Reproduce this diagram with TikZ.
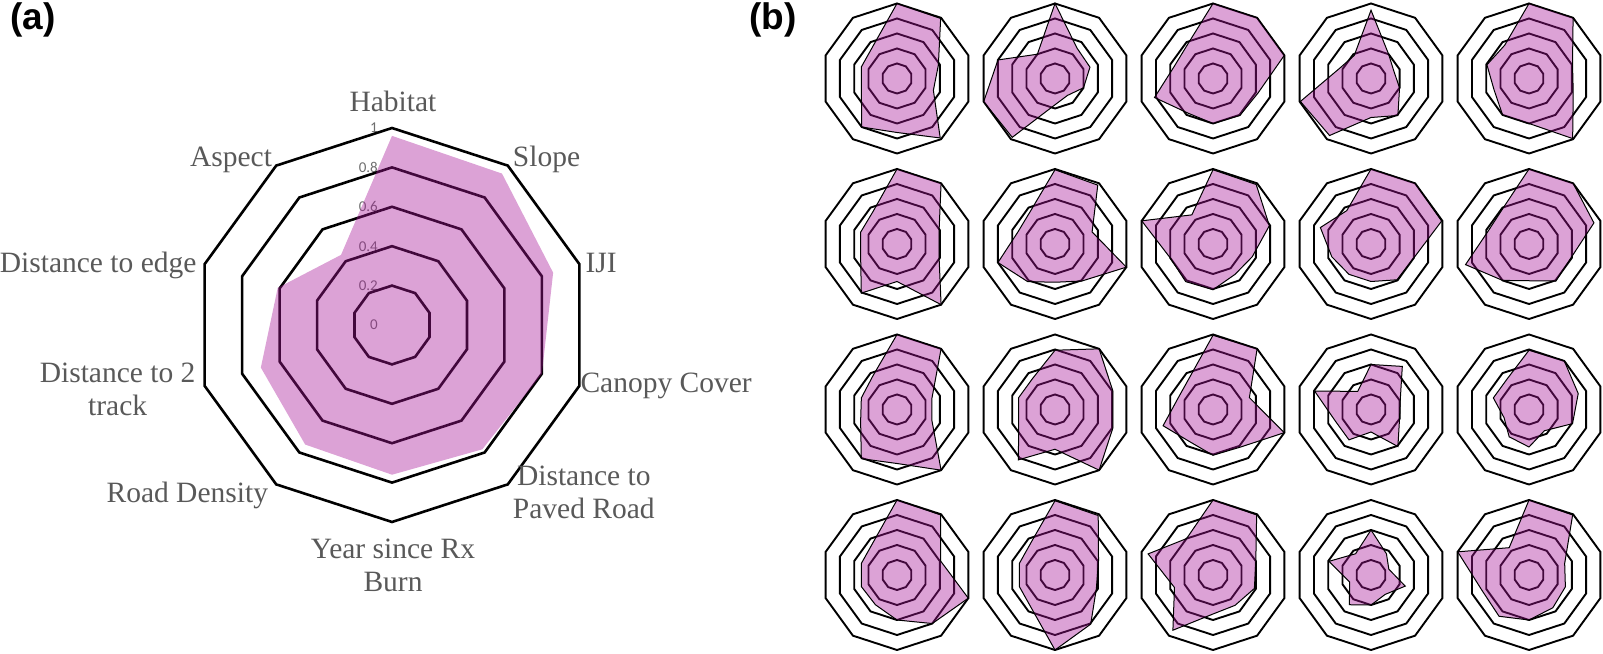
\documentclass[tikz,border=0pt]{standalone}
\usepackage{fontspec}
\setmainfont{Liberation Serif}
\newfontfamily\ticksfont{Carlito}
\newfontfamily\panelfont{Liberation Sans}
\definecolor{radarpink}{RGB}{167,22,152}
\definecolor{labelgray}{RGB}{89,89,89}
\definecolor{tickgray}{RGB}{110,110,110}
\tikzset{
  bigring/.style={draw=black, line width=2.6pt},      % rings of the large chart
  bigarea/.style={fill=radarpink, fill opacity=0.4},  % no outline in (a)
  smallring/.style={draw=black, line width=1.9pt},
  smallarea/.style={fill=radarpink, fill opacity=0.4, draw=black, line width=1pt},
  axislabel/.style={font=\fontsize{29.5}{33}\selectfont, text=labelgray,
    inner sep=0pt, align=center},
  ticklabel/.style={font=\ticksfont\fontsize{15}{16}\selectfont, text=tickgray,
    inner sep=0pt, anchor=east},
  panellabel/.style={font=\panelfont\bfseries\fontsize{37}{40}\selectfont,
    inner sep=0pt, anchor=base west}
}
% #1 name, #2 centre, #3 radius, #4 style prefix, #5 values (clockwise from top)
\newcommand{\radarchart}[5]{%
  \begin{scope}[shift={#2}]
    \foreach \ringno in {1,...,5}
      \draw[#4ring] (90:{\ringno*#3/5})
        \foreach \k in {1,...,9} { -- ({90-36*\k}:{\ringno*#3/5}) } -- cycle;
    \foreach \k in {0,...,9}
      \coordinate (#1-o\k) at ({90-36*\k}:#3);
    \foreach \val [count=\i from 0] in #5
      \coordinate (#1-\i) at ({90-36*\i}:{\val*#3});
    \path[#4area] (#1-0) \foreach \i in {1,...,9} { -- (#1-\i) } -- cycle;
  \end{scope}}

\begin{document}
\begin{tikzpicture}[x=1pt, y=1pt]
  \useasboundingbox (0,0) rectangle (1603,653);

  \node[panellabel] (pa) at (10,623) {(a)};
  \node[panellabel] (pb) at (749,623) {(b)};

  % scale of the large chart, under the filled area
  \foreach \t [count=\k from 0] in {0,0.2,0.4,0.6,0.8,1}
    \node[ticklabel] (tick\k) at (378,{328+39.4*\k}) {\t};

  % (a) mean values
  \radarchart{big}{(392,328)}{197}{big}{{0.96,0.95,0.86,0.80,0.78,0.76,0.75,0.70,0.61,0.44}}

  \node[axislabel, anchor=base] (habitat) at ([shift={(1,16)}]big-o0) {Habitat};
  \node[axislabel, anchor=base west] (slope) at ([shift={(5,-1)}]big-o1) {Slope};
  \node[axislabel, anchor=base west] (iji) at ([shift={(6,-8)}]big-o2) {IJI};
  \node[axislabel, anchor=base west] (canopy) at ([shift={(1,-7)}]big-o3) {Canopy Cover};
  \node[axislabel, anchor=north] (paved) at ([shift={(76,19)}]big-o4) {Distance to\\Paved Road};
  \node[axislabel, anchor=north] (rxburn) at ([shift={(1,-17)}]big-o5) {Year since Rx\\Burn};
  \node[axislabel, anchor=base east] (roads) at ([shift={(-8,-18)}]big-o6) {Road Density};
  \node[axislabel, anchor=north] (twotrack) at ([shift={(-87,23)}]big-o7) {Distance to 2\\track};
  \node[axislabel, anchor=base east] (edge) at ([shift={(-8,-8)}]big-o8) {Distance to edge};
  \node[axislabel, anchor=base east] (aspect) at ([shift={(-4,-1)}]big-o9) {Aspect};

  % (b) one chart per bird, 4 rows of 5
  \foreach \vals [count=\n from 0] in {
      {1.00,0.99,0.58,0.51,0.98,0.72,0.80,0.50,0.50,0.54},
      {1.00,0.50,0.49,0.40,0.28,0.35,0.97,1.00,0.80,0.40},
      {1.00,1.00,1.00,0.63,0.61,0.60,0.57,0.82,0.54,0.57},
      {0.91,0.40,0.32,0.40,0.61,0.52,0.94,0.99,0.44,0.38},
      {1.00,1.00,0.61,0.62,0.99,0.60,0.60,0.49,0.59,0.55},
      {1.00,1.00,0.59,0.59,1.00,0.50,0.81,0.51,0.51,0.54},
      {0.99,0.97,0.52,1.00,0.61,0.51,0.62,0.80,0.52,0.55},
      {0.99,0.98,0.79,0.55,0.50,0.61,0.62,0.60,1.00,0.48},
      {1.00,1.00,0.99,0.60,0.59,0.50,0.50,0.55,0.71,0.55},
      {1.00,1.00,0.91,0.59,0.61,0.49,0.60,0.89,0.57,0.59},
      {1.00,1.00,0.49,0.49,1.00,0.72,0.81,0.51,0.50,0.55},
      {0.79,1.00,0.81,0.81,1.00,0.53,0.83,0.51,0.51,0.51},
      {0.99,1.00,0.51,1.00,0.62,0.61,0.53,0.70,0.49,0.53},
      {0.60,0.71,0.41,0.40,0.61,0.30,0.50,0.50,0.79,0.30},
      {0.79,0.80,0.69,0.61,0.35,0.50,0.45,0.35,0.50,0.50},
      {1.00,0.99,0.61,1.00,0.80,0.60,0.49,0.50,0.50,0.54},
      {0.99,0.98,0.61,0.58,0.81,1.00,0.54,0.50,0.50,0.54},
      {1.00,0.99,0.60,0.58,0.50,0.52,0.91,0.54,0.91,0.60},
      {0.60,0.35,0.25,0.48,0.32,0.40,0.49,0.30,0.59,0.35},
      {1.00,0.99,0.50,0.51,0.54,0.60,0.68,0.66,1.00,0.45}} {
    \pgfmathtruncatemacro\col{mod(\n,5)}
    \pgfmathtruncatemacro\row{\n/5}
    \radarchart{s\n}{({897+158*\col},{574.5-165.5*\row})}{75}{small}{\vals}
  }
\end{tikzpicture}
\end{document}
